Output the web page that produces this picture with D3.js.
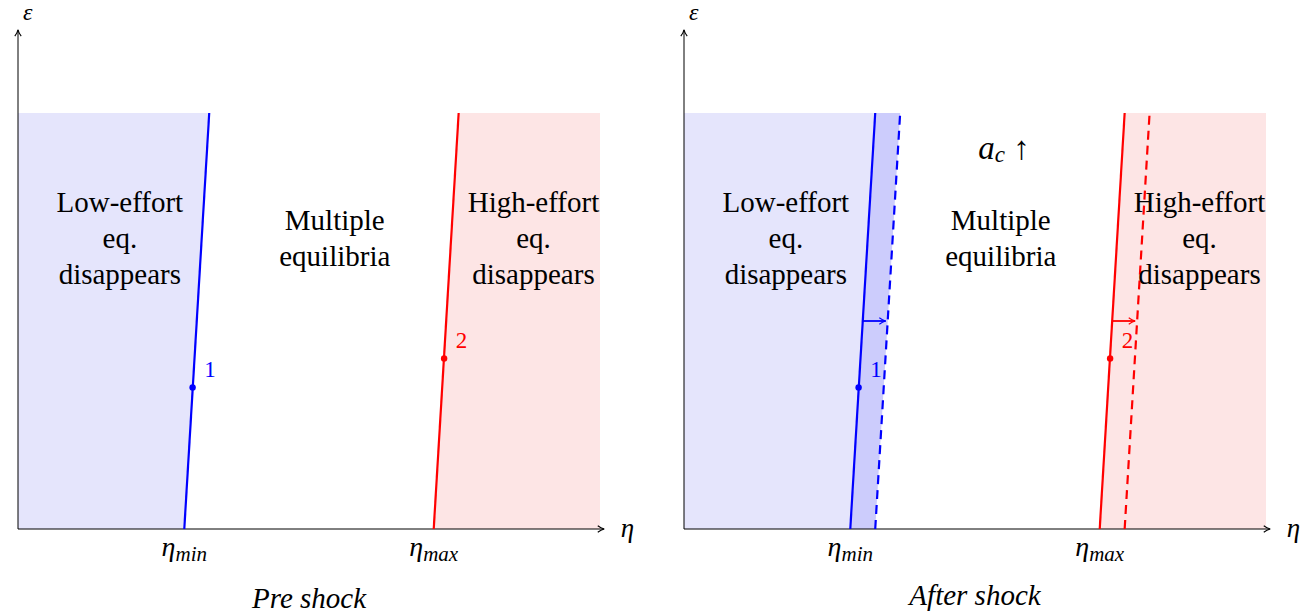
<!DOCTYPE html>
<html>
<head>
<meta charset="utf-8">
<script src="https://cdn.jsdelivr.net/npm/d3@7"></script>
<style>
  body { margin: 0; background: #fff; }
  svg text { font-family: "Times New Roman", Times, "Liberation Serif", Tinos, "DejaVu Serif", "Noto Serif", serif; }
</style>
</head>
<body>
<svg id="chart"></svg>
<script>
// chart data (in tikz-like units)
let panels = ["Pre shock", "After shock"];
let blueLine = [4, 4.6];        // eta at eps=0 and eps=10
let redLine = [10, 10.6];
let shift = 0.6;                // shock moves both thresholds right
let bluePoint = [4.2, 3.4];
let redPoint = [10.25, 4.1];
let regionLabels = [
    {x: 2.45, lines: ["Low-effort", "eq.", "disappears"]},
    {x: 7.62, lines: ["Multiple", "equilibria"]},
    {x: 12.4, lines: ["High-effort", "eq.", "disappears"]}
];
let tickLabels = [{x: 4, sub: "min"}, {x: 10, sub: "max"}];

let width = 1314;
let height = 613;
let offsets = [18, 684];

let svg = d3.select("#chart")
            .attr("width", width)
            .attr("height", height)

let xScale = d3.scaleLinear().domain([0, 14]).range([0, 582])
let yScale = d3.scaleLinear().domain([0, 10]).range([529, 113])

let defs = svg.append("defs")
function marker(id, color) {
    defs.append("marker")
        .attr("id", id)
        .attr("viewBox", "0 0 10 10")
        .attr("refX", 9)
        .attr("refY", 5)
        .attr("markerWidth", 8)
        .attr("markerHeight", 8)
        .attr("markerUnits", "userSpaceOnUse")
        .attr("orient", "auto")
        .append("path")
        .attr("d", "M1,1 Q5,4 9,5 Q5,6 1,9")
        .attr("fill", "none")
        .attr("stroke", color)
        .attr("stroke-width", 1.4)
}
marker("arrK", "#000")
marker("arrB", "#00f")
marker("arrR", "#f00")

let line = d3.line().x(d => xScale(d[0])).y(d => yScale(d[1]))

panels.forEach((title, i) => {
    let g = svg.append("g").attr("transform", "translate(" + offsets[i] + ",0)")
    let after = i == 1;

    // shaded regions
    g.append("path")
        .attr("d", line([[0, 0], [blueLine[0], 0], [blueLine[1], 10], [0, 10]]))
        .attr("fill", "#e5e5fc")
    g.append("path")
        .attr("d", line([[redLine[0], 0], [14, 0], [14, 10], [redLine[1], 10]]))
        .attr("fill", "#fde5e5")
    if (after) {
        g.append("path")
            .attr("d", line([[blueLine[0], 0], [blueLine[0] + shift, 0], [blueLine[1] + shift, 10], [blueLine[1], 10]]))
            .attr("fill", "#ccccfc")
    }

    // axes
    g.append("line")
        .attr("x1", xScale(0)).attr("y1", yScale(0))
        .attr("x2", xScale(14.1)).attr("y2", yScale(0))
        .attr("stroke", "#000").attr("stroke-width", 1)
        .attr("marker-end", "url(#arrK)")
    g.append("line")
        .attr("x1", xScale(0)).attr("y1", yScale(0))
        .attr("x2", xScale(0)).attr("y2", yScale(12))
        .attr("stroke", "#000").attr("stroke-width", 1)
        .attr("marker-end", "url(#arrK)")
    g.append("text")
        .attr("x", xScale(14.5)).attr("y", yScale(0) + 8)
        .attr("font-size", 27).attr("font-style", "italic")
        .text("η")
    g.append("text")
        .attr("x", xScale(0.12)).attr("y", 20)
        .attr("font-size", 24).attr("font-style", "italic")
        .text("ε")

    // threshold lines
    g.append("path").attr("d", line([[blueLine[0], 0], [blueLine[1], 10]]))
        .attr("stroke", "#00f").attr("stroke-width", 2.2).attr("fill", "none")
    g.append("path").attr("d", line([[redLine[0], 0], [redLine[1], 10]]))
        .attr("stroke", "#f00").attr("stroke-width", 2.2).attr("fill", "none")
    if (after) {
        g.append("path").attr("d", line([[blueLine[0] + shift, 0], [blueLine[1] + shift, 10]]))
            .attr("stroke", "#00f").attr("stroke-width", 2.2).attr("fill", "none")
            .attr("stroke-dasharray", "9,6")
        g.append("path").attr("d", line([[redLine[0] + shift, 0], [redLine[1] + shift, 10]]))
            .attr("stroke", "#f00").attr("stroke-width", 2.2).attr("fill", "none")
            .attr("stroke-dasharray", "9,6")
        // shift arrows at eps = 5
        g.append("line")
            .attr("x1", xScale(blueLine[0] + 0.3)).attr("y1", yScale(5))
            .attr("x2", xScale(blueLine[0] + 0.3 + shift) - 2).attr("y2", yScale(5))
            .attr("stroke", "#00f").attr("stroke-width", 1.8)
            .attr("marker-end", "url(#arrB)")
        g.append("line")
            .attr("x1", xScale(redLine[0] + 0.3)).attr("y1", yScale(5))
            .attr("x2", xScale(redLine[0] + 0.3 + shift) - 2).attr("y2", yScale(5))
            .attr("stroke", "#f00").attr("stroke-width", 1.8)
            .attr("marker-end", "url(#arrR)")
        g.append("text")
            .attr("x", xScale(7.7)).attr("y", yScale(9.16))
            .attr("text-anchor", "middle").attr("dominant-baseline", "central")
            .attr("font-size", 33)
            .html('<tspan font-style="italic">a</tspan><tspan font-style="italic" font-size="23" dy="6">c</tspan><tspan dy="-6"> ↑</tspan>')
    }

    // points
    g.append("circle").attr("cx", xScale(bluePoint[0])).attr("cy", yScale(bluePoint[1]))
        .attr("r", 3.2).attr("fill", "#00f")
    g.append("circle").attr("cx", xScale(redPoint[0])).attr("cy", yScale(redPoint[1]))
        .attr("r", 3.2).attr("fill", "#f00")
    g.append("text").attr("x", xScale(bluePoint[0] + 0.42)).attr("y", yScale(bluePoint[1] + 0.43))
        .attr("text-anchor", "middle").attr("dominant-baseline", "central")
        .attr("font-size", 23).attr("fill", "#00f").text("1")
    g.append("text").attr("x", xScale(redPoint[0] + 0.42)).attr("y", yScale(redPoint[1] + 0.43))
        .attr("text-anchor", "middle").attr("dominant-baseline", "central")
        .attr("font-size", 23).attr("fill", "#f00").text("2")

    // region labels
    regionLabels.forEach(r => {
        let n = r.lines.length;
        r.lines.forEach((t, k) => {
            g.append("text")
                .attr("x", xScale(r.x))
                .attr("y", yScale(7) + (k - (n - 1) / 2) * 36)
                .attr("text-anchor", "middle").attr("dominant-baseline", "central")
                .attr("font-size", 29)
                .text(t)
        })
    })

    // tick labels
    tickLabels.forEach(t => {
        g.append("text")
            .attr("x", xScale(t.x)).attr("y", yScale(0) + 27)
            .attr("text-anchor", "middle")
            .attr("font-size", 28).attr("font-style", "italic")
            .html('η<tspan font-size="21" dy="5">' + t.sub + '</tspan>')
    })

    // subtitle
    g.append("text")
        .attr("x", xScale(7.0)).attr("y", 598 - (after ? 3 : 0))
        .attr("text-anchor", "middle").attr("dominant-baseline", "central")
        .attr("font-size", 29).attr("font-style", "italic")
        .text(title)
})
</script>
</body>
</html>
